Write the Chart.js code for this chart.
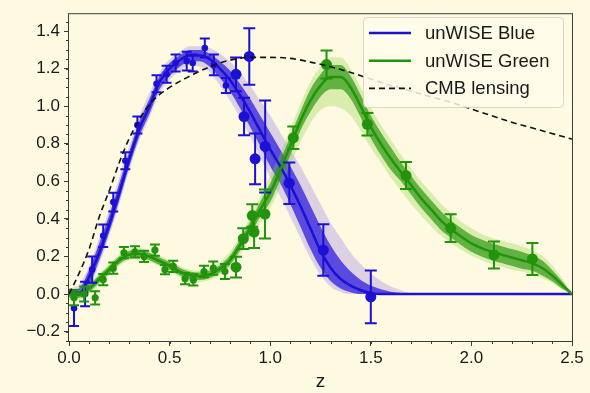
<!DOCTYPE html>
<html lang="en">
<head>
<meta charset="UTF-8">
<title>unWISE redshift distributions</title>
<script src="https://cdn.jsdelivr.net/npm/chart.js"></script>
<style>
  html, body { margin: 0; padding: 0; background: #fef9e1; }
  #wrap { width: 590px; height: 393px; position: relative; }
</style>
</head>
<body>
<div id="wrap"><canvas id="viz"></canvas></div>
<script>
// axis ticks
const xTicks = [0, 0.5, 1.0, 1.5, 2.0, 2.5]
const yTicks = [-0.2, 0, 0.2, 0.4, 0.6, 0.8, 1.0, 1.2, 1.4]

// unWISE Blue: mean dN/dz and the spread of the sample curves
const blueZ = [0, 0.05, 0.1, 0.15, 0.2, 0.25, 0.3, 0.35, 0.4, 0.45, 0.5, 0.55, 0.6, 0.65, 0.7, 0.75, 0.8, 0.85, 0.9, 0.95, 1.0, 1.05, 1.1, 1.15, 1.2, 1.25, 1.3, 1.35, 1.4, 1.45, 1.5, 1.55, 1.6, 1.65, 1.7, 2.5]
const blueMean = [0, 0, 0.09, 0.22, 0.37, 0.54, 0.72, 0.88, 1.0, 1.13, 1.2, 1.245, 1.27, 1.27, 1.25, 1.2, 1.14, 1.06, 0.97, 0.87, 0.77, 0.68, 0.58, 0.47, 0.35, 0.23, 0.14, 0.08, 0.045, 0.02, 0.005, 0, 0, 0, 0, 0]
const blueHi = [0.02, 0.03, 0.13, 0.27, 0.42, 0.59, 0.76, 0.92, 1.04, 1.16, 1.23, 1.27, 1.3, 1.3, 1.28, 1.24, 1.19, 1.12, 1.04, 0.95, 0.86, 0.77, 0.68, 0.58, 0.47, 0.36, 0.26, 0.18, 0.12, 0.075, 0.045, 0.025, 0.012, 0.005, 0, 0]
const blueLo = [0, -0.01, 0.05, 0.18, 0.33, 0.5, 0.68, 0.84, 0.96, 1.09, 1.16, 1.21, 1.24, 1.24, 1.21, 1.15, 1.08, 0.99, 0.89, 0.79, 0.68, 0.59, 0.48, 0.36, 0.24, 0.14, 0.07, 0.03, 0.01, 0, 0, 0, 0, 0, 0, 0]
const blueHiFaint = [0.03, 0.05, 0.15, 0.3, 0.45, 0.62, 0.79, 0.95, 1.07, 1.18, 1.25, 1.29, 1.32, 1.32, 1.31, 1.28, 1.24, 1.18, 1.11, 1.03, 0.95, 0.86, 0.77, 0.68, 0.58, 0.48, 0.38, 0.3, 0.22, 0.16, 0.11, 0.07, 0.04, 0.02, 0.005, 0]
const blueLoFaint = [-0.01, -0.02, 0.03, 0.16, 0.31, 0.48, 0.66, 0.82, 0.94, 1.07, 1.14, 1.19, 1.22, 1.21, 1.18, 1.11, 1.03, 0.94, 0.84, 0.73, 0.62, 0.52, 0.41, 0.3, 0.19, 0.1, 0.04, 0.01, 0, 0, 0, 0, 0, 0, 0, 0]

// unWISE Blue measurements (clustering-redshift points)
const blueZ1 = [0.025, 0.08, 0.115, 0.17, 0.22, 0.28, 0.34, 0.435, 0.485, 0.53, 0.585, 0.615, 0.675, 0.72, 0.78]
const blueV1 = [-0.075, 0.0, 0.13, 0.31, 0.49, 0.71, 0.9, 1.12, 1.17, 1.23, 1.24, 1.23, 1.31, 1.22, 1.11]
const blueE1 = [0.095, 0.065, 0.07, 0.06, 0.05, 0.045, 0.045, 0.045, 0.045, 0.045, 0.05, 0.045, 0.05, 0.055, 0.04]
const blueZ2 = [0.83, 0.87, 0.896, 0.925, 0.975, 1.095, 1.264, 1.5]
const blueV2 = [1.17, 0.945, 1.265, 0.72, 0.786, 0.59, 0.234, -0.015]
const blueE2 = [0.09, 0.1, 0.15, 0.135, 0.245, 0.11, 0.137, 0.14]

// unWISE Green
const greenZ = [0, 0.05, 0.1, 0.15, 0.2, 0.25, 0.3, 0.35, 0.4, 0.45, 0.5, 0.55, 0.6, 0.65, 0.7, 0.75, 0.8, 0.85, 0.9, 0.95, 1.0, 1.05, 1.1, 1.15, 1.2, 1.25, 1.3, 1.35, 1.4, 1.45, 1.5, 1.55, 1.6, 1.65, 1.7, 1.75, 1.8, 1.85, 1.9, 1.95, 2.0, 2.05, 2.1, 2.15, 2.2, 2.25, 2.3, 2.35, 2.4, 2.45, 2.5]
const greenMean = [0, 0, 0.03, 0.08, 0.13, 0.18, 0.21, 0.215, 0.2, 0.175, 0.15, 0.12, 0.1, 0.095, 0.105, 0.135, 0.18, 0.26, 0.35, 0.45, 0.54, 0.66, 0.79, 0.92, 1.03, 1.11, 1.155, 1.155, 1.1, 1.0, 0.89, 0.8, 0.72, 0.65, 0.58, 0.51, 0.45, 0.39, 0.345, 0.305, 0.27, 0.245, 0.225, 0.21, 0.195, 0.18, 0.165, 0.14, 0.1, 0.05, 0]
const greenHi = [0.02, 0.02, 0.05, 0.1, 0.15, 0.2, 0.23, 0.235, 0.22, 0.195, 0.17, 0.14, 0.12, 0.115, 0.125, 0.155, 0.205, 0.29, 0.385, 0.49, 0.59, 0.71, 0.84, 0.97, 1.09, 1.17, 1.22, 1.22, 1.16, 1.06, 0.95, 0.86, 0.78, 0.7, 0.63, 0.56, 0.5, 0.44, 0.39, 0.35, 0.315, 0.29, 0.27, 0.255, 0.24, 0.225, 0.205, 0.18, 0.13, 0.07, 0]
const greenLo = [-0.02, -0.02, 0.01, 0.06, 0.11, 0.16, 0.19, 0.195, 0.18, 0.155, 0.13, 0.1, 0.08, 0.075, 0.085, 0.115, 0.155, 0.23, 0.315, 0.41, 0.49, 0.61, 0.74, 0.87, 0.97, 1.05, 1.09, 1.09, 1.04, 0.94, 0.83, 0.74, 0.66, 0.6, 0.53, 0.46, 0.4, 0.34, 0.3, 0.26, 0.225, 0.2, 0.18, 0.165, 0.15, 0.135, 0.125, 0.1, 0.07, 0.03, 0]
const greenHiFaint = [0.03, 0.03, 0.06, 0.11, 0.16, 0.21, 0.24, 0.245, 0.23, 0.205, 0.18, 0.15, 0.13, 0.125, 0.135, 0.17, 0.225, 0.31, 0.41, 0.52, 0.63, 0.75, 0.88, 1.01, 1.13, 1.21, 1.26, 1.26, 1.2, 1.1, 0.99, 0.9, 0.82, 0.74, 0.67, 0.6, 0.54, 0.48, 0.43, 0.385, 0.35, 0.32, 0.3, 0.285, 0.27, 0.255, 0.235, 0.205, 0.155, 0.085, 0]
const greenLoFaint = [-0.03, -0.03, 0, 0.05, 0.1, 0.15, 0.18, 0.185, 0.17, 0.145, 0.12, 0.09, 0.07, 0.065, 0.075, 0.1, 0.14, 0.21, 0.29, 0.38, 0.46, 0.57, 0.69, 0.81, 0.91, 0.98, 1.0, 0.99, 0.95, 0.87, 0.78, 0.7, 0.62, 0.55, 0.48, 0.42, 0.36, 0.31, 0.27, 0.235, 0.205, 0.18, 0.16, 0.145, 0.13, 0.12, 0.105, 0.085, 0.06, 0.025, 0]

const greenZ1 = [0.025, 0.075, 0.13, 0.17, 0.22, 0.273, 0.328, 0.373, 0.427, 0.477, 0.518, 0.577, 0.618, 0.671, 0.717, 0.775]
const greenV1 = [-0.02, 0.0, -0.02, 0.077, 0.138, 0.22, 0.225, 0.2, 0.234, 0.13, 0.147, 0.082, 0.075, 0.12, 0.138, 0.12]
const greenE1 = [0.04, 0.04, 0.035, 0.03, 0.03, 0.03, 0.03, 0.03, 0.03, 0.025, 0.03, 0.03, 0.03, 0.03, 0.035, 0.04]
const greenZ2 = [0.83, 0.866, 0.911, 0.92, 0.974, 1.115, 1.28, 1.483, 1.675, 1.897, 2.112, 2.303]
const greenV2 = [0.143, 0.295, 0.418, 0.33, 0.426, 0.832, 1.222, 0.904, 0.631, 0.351, 0.208, 0.187]
const greenE2 = [0.055, 0.055, 0.06, 0.085, 0.13, 0.06, 0.075, 0.06, 0.072, 0.074, 0.072, 0.085]

// CMB lensing kernel
const cmbZ = [0, 0.05, 0.1, 0.15, 0.2, 0.25, 0.3, 0.4, 0.5, 0.6, 0.7, 0.8, 0.9, 1.0, 1.1, 1.2, 1.3, 1.4, 1.5, 1.6, 1.7, 1.8, 1.9, 2.0, 2.1, 2.2, 2.3, 2.4, 2.5]
const cmbV = [0, 0.11, 0.24, 0.41, 0.55, 0.7, 0.83, 1.01, 1.1, 1.16, 1.21, 1.245, 1.26, 1.26, 1.255, 1.235, 1.21, 1.18, 1.145, 1.11, 1.08, 1.05, 1.02, 0.985, 0.95, 0.915, 0.885, 0.855, 0.825]

const BLUE = '#1c10d2'
const GREEN = '#22930c'
const BG = '#fef9e1'
const FONT = 'Liberation Sans, Arial, sans-serif'

const pts = (xs, ys) => xs.map((x, i) => ({ x, y: ys[i] }))

function band(xs, lo, hi, color, order) {
  const common = { showLine: true, borderColor: 'rgba(0,0,0,0)', borderWidth: 0, pointRadius: 0, order, cubicInterpolationMode: 'monotone' }
  return [
    { ...common, data: pts(xs, lo), fill: false },
    { ...common, data: pts(xs, hi), fill: '-1', backgroundColor: color }
  ]
}

function curve(xs, ys, color, width, order, dash) {
  return { data: pts(xs, ys), showLine: true, borderColor: color, borderWidth: width, borderDash: dash || [], pointRadius: 0, fill: false, order, cubicInterpolationMode: 'monotone' }
}

function points(xs, ys, errs, color, r, cap, order) {
  return { data: pts(xs, ys), errors: errs, cap, showLine: false, pointRadius: r, pointBackgroundColor: color, pointBorderWidth: 0, borderColor: color, order }
}

// vertical error bars with caps, drawn under each dataset's markers
const errorBars = {
  id: 'errorBars',
  beforeDatasetDraw(chart, args) {
    const ds = chart.data.datasets[args.index]
    if (!ds.errors) return
    const { ctx, scales: { x, y } } = chart
    ctx.save()
    ctx.strokeStyle = ds.borderColor
    ctx.lineWidth = 2
    ds.data.forEach((p, i) => {
      const px = x.getPixelForValue(p.x)
      const top = y.getPixelForValue(p.y + ds.errors[i])
      const bot = y.getPixelForValue(p.y - ds.errors[i])
      ctx.beginPath()
      ctx.moveTo(px, top); ctx.lineTo(px, bot)
      ctx.moveTo(px - ds.cap, top); ctx.lineTo(px + ds.cap, top)
      ctx.moveTo(px - ds.cap, bot); ctx.lineTo(px + ds.cap, bot)
      ctx.stroke()
    })
    ctx.restore()
  }
}

const background = {
  id: 'background',
  beforeDraw(chart) {
    const { ctx, width, height } = chart
    ctx.save()
    ctx.fillStyle = BG
    ctx.fillRect(0, 0, width, height)
    ctx.restore()
  }
}

// box around the axes plus minor tick marks
const frame = {
  id: 'frame',
  afterDatasetsDraw(chart) {
    const { ctx, chartArea: a, scales: { x, y } } = chart
    ctx.save()
    ctx.strokeStyle = '#3c3c3c'
    ctx.lineWidth = 1
    ctx.strokeRect(a.left - 0.5, a.top - 0.5, a.right - a.left + 1, a.bottom - a.top + 1)
    ctx.beginPath()
    for (let v = 0.1; v < 2.5; v += 0.1) {
      const px = Math.round(x.getPixelForValue(v)) + 0.5
      ctx.moveTo(px, a.bottom); ctx.lineTo(px, a.bottom + 3)
    }
    for (let v = -0.25; v < 1.47; v += 0.05) {
      const py = Math.round(y.getPixelForValue(v)) + 0.5
      ctx.moveTo(a.left, py); ctx.lineTo(a.left - 3, py)
    }
    ctx.stroke()
    ctx.restore()
  }
}

const legendBox = {
  id: 'legendBox',
  afterDraw(chart) {
    const { ctx } = chart
    const entries = [
      { label: 'unWISE Blue', color: BLUE, dash: [] },
      { label: 'unWISE Green', color: GREEN, dash: [] },
      { label: 'CMB lensing', color: '#111', dash: [6, 4] }
    ]
    ctx.save()
    ctx.fillStyle = 'rgba(255, 251, 234, 0.85)'
    ctx.strokeStyle = 'rgba(215, 205, 190, 0.8)'
    ctx.lineWidth = 1
    ctx.beginPath()
    ctx.roundRect(363.5, 17.5, 200, 90, 4)
    ctx.fill()
    ctx.stroke()
    ctx.font = '18.5px ' + FONT
    ctx.textBaseline = 'middle'
    entries.forEach((e, i) => {
      const yy = 33 + i * 27.7
      ctx.strokeStyle = e.color
      ctx.lineWidth = e.dash.length ? 1.6 : 2.5
      ctx.setLineDash(e.dash)
      ctx.beginPath()
      ctx.moveTo(369, yy); ctx.lineTo(411, yy)
      ctx.stroke()
      ctx.setLineDash([])
      ctx.fillStyle = '#1a1a1a'
      ctx.fillText(e.label, 425, yy + 1)
    })
    ctx.restore()
  }
}

const datasets = [
  ...band(blueZ, blueLoFaint, blueHiFaint, 'rgba(120, 90, 235, 0.25)', 20),
  ...band(blueZ, blueLo, blueHi, 'rgba(40, 22, 222, 0.72)', 19),
  ...band(greenZ, greenLoFaint, greenHiFaint, 'rgba(140, 205, 60, 0.3)', 18),
  ...band(greenZ, greenLo, greenHi, 'rgba(40, 150, 15, 0.68)', 17),
  curve(blueZ, blueMean, BLUE, 2.5, 16),
  curve(greenZ, greenMean, GREEN, 2.5, 15),
  points(blueZ1, blueV1, blueE1, BLUE, 3.3, 5, 14),
  points(blueZ2, blueV2, blueE2, BLUE, 5.5, 6, 13),
  points(greenZ1, greenV1, greenE1, GREEN, 3.6, 5, 12),
  points(greenZ2, greenV2, greenE2, GREEN, 5.5, 6, 11),
  curve(cmbZ, cmbV, '#111', 1.6, 10, [6, 4])
]

const tickFont = { family: FONT, size: 17 }

new Chart(document.getElementById('viz'), {
  type: 'scatter',
  data: { datasets },
  plugins: [background, errorBars, frame, legendBox],
  options: {
    responsive: true,
    maintainAspectRatio: false,
    animation: false,
    devicePixelRatio: 1,
    layout: { padding: { top: 7, right: 18, left: 0, bottom: 0 } },
    plugins: { legend: { display: false }, tooltip: { enabled: false } },
    scales: {
      x: {
        type: 'linear', min: 0, max: 2.5,
        afterBuildTicks: s => { s.ticks = xTicks.map(value => ({ value })) },
        afterFit: s => { s.height = 52 },
        ticks: { font: tickFont, color: '#1a1a1a', padding: 2, maxRotation: 0, callback: v => v.toFixed(1) },
        grid: { drawOnChartArea: false, tickLength: 5, tickColor: '#3c3c3c' },
        border: { display: false },
        title: { display: true, text: 'z', font: { family: FONT, size: 19 }, color: '#1a1a1a', padding: { top: 0, bottom: 0 } }
      },
      y: {
        type: 'linear', min: -0.25, max: 1.49,
        afterBuildTicks: s => { s.ticks = yTicks.map(value => ({ value })) },
        afterFit: s => { s.width = 69 },
        ticks: { font: tickFont, color: '#1a1a1a', padding: 4, callback: v => v < 0 ? '\u2212' + Math.abs(v).toFixed(1) : v.toFixed(1) },
        grid: { drawOnChartArea: false, tickLength: 5, tickColor: '#3c3c3c' },
        border: { display: false }
      }
    }
  }
})
</script>
</body>
</html>
